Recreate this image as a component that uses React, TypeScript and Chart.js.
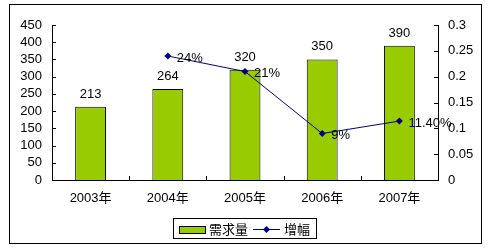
import React, { useEffect, useRef } from "react";
import { Chart, registerables } from "chart.js";

Chart.register(...registerables);

const categories = ["2003年", "2004年", "2005年", "2006年", "2007年"];
const demand = [213, 264, 320, 350, 390];
const growth = [null, 0.24, 0.21, 0.09, 0.114];
const growthLabels = ["", "24%", "21%", "9%", "11.40%"];
const seriesNames = ["需求量", "增幅"];

const FONT = '"Liberation Sans", Arial, "Noto Sans CJK SC", sans-serif';
const FONT_SIZE = 13;
const BAR_COLOR = "#99CC00";
const LINE_COLOR = "#000080";

const decorPlugin = {
  id: "decor",
  afterDraw(chart: any) {
    const ctx = chart.ctx;
    const area = chart.chartArea;
    const y = chart.scales.y;
    const y1 = chart.scales.y1;
    ctx.save();
    // inner ticks
    ctx.strokeStyle = "#000";
    ctx.lineWidth = 1;
    ctx.beginPath();
    y.ticks.forEach((t: any) => {
      const py = Math.round(y.getPixelForValue(t.value)) + 0.5;
      ctx.moveTo(area.left, py);
      ctx.lineTo(area.left + 4, py);
    });
    y1.ticks.forEach((t: any) => {
      const py = Math.round(y1.getPixelForValue(t.value)) + 0.5;
      ctx.moveTo(area.right, py);
      ctx.lineTo(area.right - 4, py);
    });
    const n = categories.length;
    const w = (area.right - area.left) / n;
    for (let i = 1; i < n; i++) {
      const px = Math.round(area.left + i * w) + 0.5;
      ctx.moveTo(px, area.bottom);
      ctx.lineTo(px, area.bottom - 4);
    }
    ctx.stroke();

    // data labels
    ctx.fillStyle = "#000";
    ctx.font = `${FONT_SIZE}px ${FONT}`;
    const barMeta = chart.getDatasetMeta(0);
    ctx.textAlign = "center";
    ctx.textBaseline = "alphabetic";
    barMeta.data.forEach((el: any, i: number) => {
      ctx.fillText(String(demand[i]), el.x, el.y - 9);
    });
    const lineMeta = chart.getDatasetMeta(1);
    ctx.textAlign = "left";
    lineMeta.data.forEach((el: any, i: number) => {
      if (growth[i] == null) return;
      ctx.fillText(growthLabels[i], el.x + 9, el.y + 5.5);
    });

    // legend
    ctx.lineWidth = 1;
    ctx.strokeStyle = "#000";
    ctx.strokeRect(173.5, 218.5, 143, 20);
    ctx.fillStyle = BAR_COLOR;
    ctx.fillRect(179.5, 226.5, 26, 7);
    ctx.strokeRect(179.5, 226.5, 26, 7);
    ctx.fillStyle = "#000";
    ctx.textBaseline = "middle";
    ctx.font = `${FONT_SIZE}px "Noto Sans CJK SC", ${FONT}`;
    ctx.fillText(seriesNames[0], 209, 229);
    ctx.strokeStyle = LINE_COLOR;
    ctx.beginPath();
    ctx.moveTo(253, 229.5);
    ctx.lineTo(280, 229.5);
    ctx.stroke();
    ctx.fillStyle = LINE_COLOR;
    ctx.beginPath();
    ctx.moveTo(266.5, 226);
    ctx.lineTo(270, 229.5);
    ctx.lineTo(266.5, 233);
    ctx.lineTo(263, 229.5);
    ctx.closePath();
    ctx.fill();
    ctx.fillStyle = "#000";
    ctx.fillText(seriesNames[1], 284, 229);

    // outer border
    ctx.strokeStyle = "#000";
    ctx.strokeRect(9.5, 4.5, 472, 239);
    ctx.restore();
  },
};

export default function App() {
  const ref = useRef<HTMLCanvasElement>(null);
  useEffect(() => {
    const chart = new Chart(ref.current as HTMLCanvasElement, {
      type: "bar",
      data: {
        labels: categories,
        datasets: [
          {
            type: "bar",
            label: seriesNames[0],
            data: demand,
            backgroundColor: BAR_COLOR,
            borderColor: "#000",
            borderWidth: 1,
            categoryPercentage: 1,
            barPercentage: 0.4,
            yAxisID: "y",
            order: 1,
          },
          {
            type: "line",
            label: seriesNames[1],
            data: growth as any,
            borderColor: LINE_COLOR,
            backgroundColor: LINE_COLOR,
            borderWidth: 1,
            pointStyle: "rectRot",
            pointRadius: 3.5,
            pointBorderWidth: 0,
            yAxisID: "y1",
            order: 0,
          } as any,
        ],
      },
      options: {
        responsive: false,
        animation: false,
        devicePixelRatio: 1,
        layout: { padding: { top: 25, bottom: 42, left: 0, right: 0 } },
        plugins: { legend: { display: false }, tooltip: { enabled: false } },
        scales: {
          x: {
            grid: { display: false, drawTicks: false },
            border: { display: true, color: "#000" },
            ticks: { color: "#000", padding: 11, font: { family: FONT, size: FONT_SIZE } },
            afterFit: (s: any) => {
              s.height = 30;
            },
          },
          y: {
            position: "left",
            min: 0,
            max: 450,
            grid: { display: false, drawTicks: false },
            border: { display: true, color: "#000" },
            ticks: {
              stepSize: 50,
              autoSkip: false,
              color: "#000",
              padding: 10,
              font: { family: FONT, size: FONT_SIZE },
            },
            afterFit: (s: any) => {
              s.width = 52;
            },
          },
          y1: {
            position: "right",
            min: 0,
            max: 0.3,
            grid: { display: false, drawTicks: false },
            border: { display: true, color: "#000" },
            ticks: {
              stepSize: 0.05,
              autoSkip: false,
              color: "#000",
              padding: 10,
              font: { family: FONT, size: FONT_SIZE },
              callback: (v: any) => String(parseFloat(Number(v).toFixed(2))),
            },
            afterFit: (s: any) => {
              s.width = 50;
            },
          },
        },
      },
      plugins: [decorPlugin],
    } as any);
    return () => chart.destroy();
  }, []);
  return (
    <div style={{ position: "absolute", left: 0, top: 0, width: 488, height: 252, background: "#fff" }}>
      <canvas ref={ref} width={488} height={252} style={{ width: 488, height: 252, display: "block" }} />
    </div>
  );
}
